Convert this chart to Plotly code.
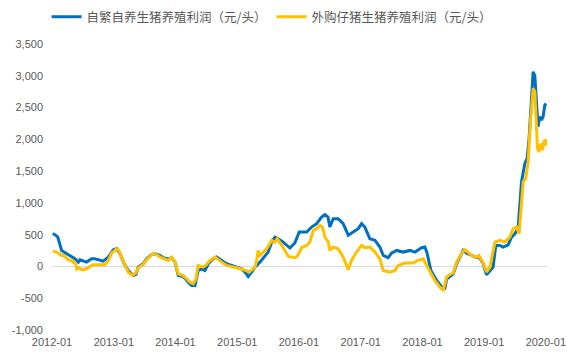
import plotly.graph_objects as go

# 自繁自养生猪养殖利润（元/头）
self_dates = [
    "2012-01-05", "2012-01-19", "2012-02-04", "2012-02-27", "2012-03-28", "2012-04-27",
    "2012-05-16", "2012-06-05", "2012-06-15", "2012-07-24", "2012-08-23", "2012-09-11",
    "2012-10-01", "2012-10-30", "2012-11-29", "2012-12-29", "2013-01-18", "2013-02-06",
    "2013-03-08", "2013-03-27", "2013-04-26", "2013-05-12", "2013-05-25", "2013-06-24",
    "2013-07-14", "2013-08-13", "2013-09-01", "2013-10-01", "2013-10-20", "2013-11-19",
    "2013-12-09", "2013-12-29", "2014-01-17", "2014-02-16", "2014-03-17", "2014-04-06",
    "2014-04-26", "2014-05-15", "2014-06-04", "2014-06-24", "2014-07-14", "2014-08-12",
    "2014-09-01", "2014-10-01", "2014-10-30", "2014-11-29", "2014-12-28", "2015-01-27",
    "2015-02-16", "2015-03-07", "2015-03-27", "2015-04-16", "2015-05-15", "2015-06-14",
    "2015-07-03", "2015-07-24", "2015-08-12", "2015-09-01", "2015-09-30", "2015-11-09",
    "2015-12-08", "2016-01-03", "2016-02-16", "2016-03-16", "2016-04-15", "2016-05-14",
    "2016-06-03", "2016-06-21", "2016-07-02", "2016-07-22", "2016-08-20", "2016-09-19",
    "2016-10-19", "2016-11-17", "2016-12-17", "2017-01-06", "2017-01-25", "2017-02-24",
    "2017-03-26", "2017-04-24", "2017-05-14", "2017-06-12", "2017-07-02", "2017-08-01",
    "2017-09-09", "2017-10-19", "2017-11-17", "2017-12-27", "2018-01-15", "2018-01-27",
    "2018-02-20", "2018-03-26", "2018-04-24", "2018-05-14", "2018-05-24", "2018-06-12",
    "2018-07-02", "2018-07-22", "2018-08-10", "2018-08-30", "2018-09-19", "2018-10-18",
    "2018-11-17", "2018-12-01", "2018-12-26", "2019-01-15", "2019-02-04", "2019-02-23",
    "2019-03-11", "2019-04-04", "2019-04-23", "2019-05-23", "2019-06-12", "2019-07-02",
    "2019-07-21", "2019-07-31", "2019-08-10", "2019-08-30", "2019-09-12", "2019-09-24",
    "2019-10-08", "2019-10-18", "2019-10-28", "2019-11-07", "2019-11-16", "2019-11-26",
    "2019-12-06", "2019-12-16", "2019-12-26", "2020-01-04",
]
self_profit = [
    515, 500, 462, 252, 200, 147,
    121, 68, 105, 68, 121, 121,
    105, 84, 147, 263, 280, 200,
    16, -63, -142, -126, -10, 42,
    121, 189, 200, 173, 137, 116,
    137, 68, -142, -158, -247, -300,
    -300, -63, -37, -63, 42, 121,
    147, 95, 42, 16, -10, -37,
    -89, -158, -89, -10, 68, 158,
    226, 383, 462, 436, 383, 290,
    370, 541, 541, 620, 673, 778,
    815, 778, 620, 752, 752, 673,
    489, 541, 594, 673, 620, 436,
    410, 305, 173, 137, 210, 252,
    226, 252, 226, 294, 305, 226,
    -63, -220, -320, -340, -200, -160,
    -120, 40, 147, 252, 210, 173,
    140, 147, 50, -130, -63, -10,
    331, 331, 305, 340, 462, 515,
    600, 950, 1330, 1620, 1699, 2014,
    2697, 3064, 3000, 2645, 2197, 2355,
    2302, 2355, 2539, 2560,
]

# 外购仔猪生猪养殖利润（元/头）
bought_dates = [
    "2012-01-05", "2012-01-29", "2012-02-27", "2012-03-08", "2012-04-07", "2012-04-27",
    "2012-05-07", "2012-05-21", "2012-05-27", "2012-06-05", "2012-06-29", "2012-07-24",
    "2012-08-23", "2012-09-01", "2012-11-10", "2012-11-29", "2012-12-19", "2013-01-08",
    "2013-01-18", "2013-01-28", "2013-02-06", "2013-03-08", "2013-03-27", "2013-04-20",
    "2013-05-12", "2013-05-25", "2013-06-24", "2013-07-14", "2013-08-13", "2013-09-01",
    "2013-10-10", "2013-10-30", "2013-11-19", "2013-12-09", "2013-12-29", "2014-01-17",
    "2014-02-16", "2014-03-26", "2014-04-15", "2014-05-01", "2014-05-15", "2014-06-12",
    "2014-06-30", "2014-07-24", "2014-08-23", "2014-10-01", "2014-10-30", "2014-12-28",
    "2015-02-05", "2015-03-13", "2015-04-16", "2015-04-26", "2015-05-05", "2015-05-15",
    "2015-06-24", "2015-07-24", "2015-08-12", "2015-08-26", "2015-09-22", "2015-10-31",
    "2015-12-08", "2015-12-23", "2016-01-17", "2016-02-16", "2016-03-06", "2016-03-26",
    "2016-04-15", "2016-05-05", "2016-05-19", "2016-06-03", "2016-06-23", "2016-07-02",
    "2016-07-22", "2016-08-20", "2016-09-19", "2016-10-19", "2016-11-07", "2016-12-07",
    "2017-01-06", "2017-01-25", "2017-02-24", "2017-03-26", "2017-04-24", "2017-05-14",
    "2017-06-22", "2017-07-22", "2017-08-11", "2017-09-19", "2017-11-05", "2017-12-07",
    "2018-01-06", "2018-01-26", "2018-02-24", "2018-03-15", "2018-04-14", "2018-05-04",
    "2018-05-24", "2018-06-12", "2018-07-02", "2018-07-22", "2018-08-20", "2018-09-09",
    "2018-10-18", "2018-11-17", "2018-12-01", "2018-12-26", "2019-01-15", "2019-02-04",
    "2019-03-06", "2019-04-04", "2019-05-03", "2019-06-02", "2019-06-22", "2019-07-12",
    "2019-07-27", "2019-08-06", "2019-08-20", "2019-09-04", "2019-09-18", "2019-10-02",
    "2019-10-18", "2019-10-28", "2019-11-07", "2019-11-13", "2019-11-22", "2019-12-02",
    "2019-12-12", "2019-12-22", "2019-12-29", "2020-01-04",
]
bought_profit = [
    241, 226, 173, 173, 105, 95,
    68, 32, -40, -20, -53, -37,
    16, 26, 26, 95, 210, 252,
    278, 263, 200, 16, -89, -142,
    -100, -20, 32, 105, 189, 200,
    137, 121, 95, 147, 68, -115,
    -142, -247, -273, -200, 16, -10,
    20, 95, 147, 68, 16, -20,
    -47, -89, -10, 95, 252, 173,
    278, 410, 383, 436, 331, 158,
    137, 160, 294, 331, 383, 568,
    594, 646, 620, 462, 383, 252,
    305, 278, 147, -53, 95, 226,
    331, 294, 305, 226, 121, -63,
    -89, -63, 16, 53, 53, 95,
    121, 16, -115, -220, -326, -368,
    -168, -126, -105, 68, 200, 263,
    173, 147, 170, 60, -89, -10,
    383, 410, 383, 462, 594, 620,
    515, 900, 1330, 1383, 1645, 2276,
    2802, 2750, 2276, 1856, 1803, 1935,
    1830, 1988, 1900, 2010,
]

y_tick_vals = [-1000, -500, 0, 500, 1000, 1500, 2000, 2500, 3000, 3500]
y_tick_text = ["-1,000", "-500", "0", "500", "1,000", "1,500", "2,000", "2,500", "3,000", "3,500"]
x_tick_vals = ["2012-01-01", "2013-01-01", "2014-01-01", "2015-01-01", "2016-01-01",
               "2017-01-01", "2018-01-01", "2019-01-01", "2020-01-01"]
x_tick_text = ["2012-01", "2013-01", "2014-01", "2015-01", "2016-01",
               "2017-01", "2018-01", "2019-01", "2020-01"]

num_font = "Liberation Sans, Arial, Noto Sans CJK SC, sans-serif"
leg_font = "Noto Sans CJK SC, Liberation Sans, sans-serif"

fig = go.Figure()
fig.add_trace(go.Scatter(
    x=self_dates, y=self_profit, mode="lines",
    name="自繁自养生猪养殖利润（元/头）",
    line=dict(color="#0070C0", width=3),
))
fig.add_trace(go.Scatter(
    x=bought_dates, y=bought_profit, mode="lines",
    name="外购仔猪生猪养殖利润（元/头）",
    line=dict(color="#FFC000", width=3),
))

fig.update_layout(
    width=567, height=361,
    margin=dict(l=52, r=20, t=44, b=31, autoexpand=False),
    paper_bgcolor="white", plot_bgcolor="white",
    font=dict(family=num_font, size=11, color="#595959"),
    showlegend=True,
    legend=dict(
        orientation="h", x=0.479, xanchor="center", xref="container",
        y=1.094, yanchor="middle", yref="paper",
        font=dict(size=12.5, color="#595959", family=leg_font),
        bgcolor="rgba(0,0,0,0)", itemwidth=30,
    ),
    xaxis=dict(
        type="date", range=["2012-01-01", "2020-01-08"],
        tickvals=x_tick_vals, ticktext=x_tick_text,
        showgrid=False, zeroline=False, showline=False, ticks="",
        tickfont=dict(size=11, color="#595959"),
        ticklabelstandoff=4,
    ),
    yaxis=dict(
        range=[-1000, 3500], tickvals=y_tick_vals, ticktext=y_tick_text,
        showgrid=False, zeroline=True, zerolinecolor="#D9D9D9", zerolinewidth=1,
        showline=False, ticks="", ticklabelstandoff=8,
        tickfont=dict(size=11, color="#595959"),
    ),
)

fig.write_html(
    "out.html",
    config={"displayModeBar": False},
    post_script="document.body.style.margin='0';document.body.style.overflow='hidden';",
)
